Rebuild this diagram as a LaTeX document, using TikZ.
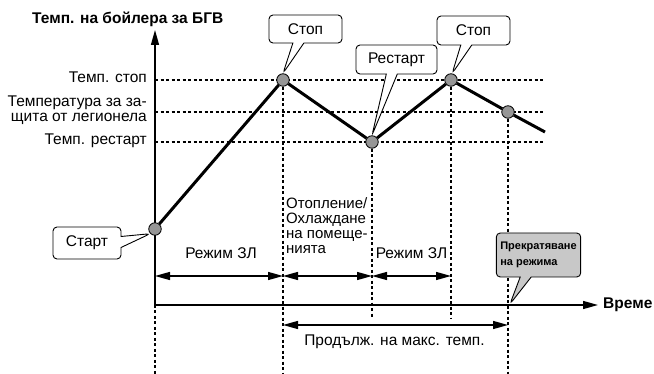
\documentclass[tikz,border=0pt]{standalone}
\usepackage{fontspec}
\setmainfont{Liberation Sans}
\usetikzlibrary{positioning, arrows.meta, calc, shapes.callouts, backgrounds}
\definecolor{cP}{RGB}{150,150,150}
\definecolor{cB}{RGB}{200,200,200}

\begin{document}
\begin{tikzpicture}[x=1pt, y=-1pt, font=\fontsize{15.5}{15}\selectfont,
                    axis/.style={line width=1.4pt, -{Triangle[length=15pt, width=8pt]}},
                    span/.style={line width=1.4pt, {Triangle[length=15pt, width=8pt]}-{Triangle[length=15pt, width=8pt]}},
                    guide/.style={line width=1.2pt, dash pattern=on 3pt off 2.5pt},
                    curve/.style={line width=3pt, line join=round},
                    point/.style={circle, draw, fill=cP, line width=0.8pt, minimum size=12.5pt, inner sep=0pt},
                    bubble/.style={rectangle callout, draw, fill=white, rounded corners=4pt, line width=0.9pt,
                                   callout pointer width=11pt, inner sep=0pt}]
    \useasboundingbox (0,0) rectangle (654,374);

    % Axes
    \coordinate (O) at (155,305);
    \coordinate (ytip) at (155,30);
    \coordinate (xtip) at (598,305);
    \coordinate (low) at (0,318);
    \coordinate (bottom) at (0,374);
    \draw[axis] (O) -- (ytip);
    \draw[axis] (O) -- (xtip);
    \node[anchor=base west, font=\bfseries\fontsize{15.5}{15}\selectfont, inner sep=0pt] (ylabel) at (32,24) {Темп. на бойлера за БГВ};
    \node[right=5pt of xtip, font=\bfseries\fontsize{15.5}{15}\selectfont, inner sep=0pt] (xlabel) {Време};

    % Points on the curve
    \node[point] (start)   at (155,229) {};
    \node[point] (stopA)   at (283,80)  {};
    \node[point] (restart) at (372,142) {};
    \node[point] (stopB)   at (451,80)  {};
    \node[point] (legion)  at (508,112) {};
    \coordinate (tail) at (545,132);
    \draw[curve] (start) -- (stopA) -- (restart) -- (stopB) -- (legion) -- (tail);

    % Guide lines
    \begin{scope}[on background layer]
        \draw[guide] (O |- stopA) -- (tail |- stopA);
        \draw[guide] (O |- legion) -- (tail |- legion);
        \draw[guide] (O |- restart) -- (tail |- restart);
        \draw[guide] (O) -- (O |- bottom);
        \draw[guide] (stopA) -- (stopA |- bottom);
        \draw[guide] (restart) -- (restart |- low);
        \draw[guide] (stopB) -- (stopB |- low);
        \draw[guide] (legion) -- (legion |- bottom);
    \end{scope}

    % Levels
    \node[anchor=base east, inner sep=0pt] (lStop) at (147,83) {Темп. стоп};
    \node[anchor=east, align=right, inner sep=0pt, font=\fontsize{15.5}{14.5}\selectfont] (lLeg) at (147,110) {Температура за за-\\щита от легионела};
    \node[anchor=base east, inner sep=0pt] (lRst) at (147,145) {Темп. рестарт};

    % Mode spans
    \coordinate (m0) at (155,276);
    \coordinate (m1) at (stopA |- m0);
    \coordinate (m2) at (restart |- m0);
    \coordinate (m3) at (stopB |- m0);
    \draw[span] (m0) -- (m1);
    \draw[span] (m1) -- (m2);
    \draw[span] (m2) -- (m3);
    \node (zlA) at ($(m0)!.5!(m1)+(2,-23)$) {Режим ЗЛ};
    \node (zlB) at ($(m2)!.5!(m3)+(0,-23)$) {Режим ЗЛ};
    \node[anchor=north west, align=left, inner sep=0pt, font=\fontsize{15}{15.3}\selectfont] (heat) at (286,197)
        {Отопление/\\Охлаждане\\на помеще-\\нията};

    \coordinate (d0) at (stopA |- 0,325);
    \coordinate (d1) at (legion |- 0,325);
    \draw[span] (d0) -- (d1);
    \node (maxT) at ($(d0)!.5!(d1)+(-1,17)$) {Продълж. на макс. темп.};

    % Callouts
    \coordinate (halt) at (510,304);
    \node[bubble, minimum width=73pt, minimum height=28pt, callout absolute pointer={(stopA.north)}] (cStopA) at (305.5,29) {Стоп};
    \node[bubble, minimum width=81pt, minimum height=29pt, callout absolute pointer={(restart.north)}] (cRst) at (396.5,59.5) {Рестарт};
    \node[bubble, minimum width=73pt, minimum height=29pt, callout absolute pointer={(stopB.80)}] (cStopB) at (473.5,30.5) {Стоп};
    \node[bubble, minimum width=68pt, minimum height=32pt, callout absolute pointer={(start.225)}] (cStart) at (87,243) {Старт};
    \node[bubble, fill=cB, minimum width=83pt, minimum height=44pt, align=left, inner xsep=4pt,
          font=\bfseries\fontsize{11}{15.5}\selectfont, callout absolute pointer={(halt)}] (cHalt) at (538.5,255)
        {Прекратяване\\на режима};
\end{tikzpicture}
\end{document}
